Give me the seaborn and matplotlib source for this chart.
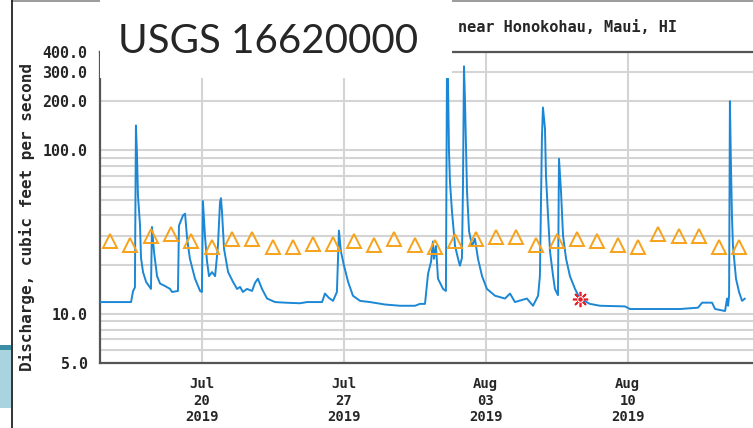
import numpy as np
import pandas as pd
import matplotlib
matplotlib.use("Agg")
import matplotlib.pyplot as plt
import matplotlib.ticker as mticker
from matplotlib.patches import Rectangle
from matplotlib.lines import Line2D
import seaborn as sns

# Discharge record, days after 2019-07-15 00:00 (HST) and cfs
flow_day = [0.00, 1.53, 1.63, 1.72, 1.77, 1.82, 1.87, 1.97, 2.02, 2.12, 2.27, 2.51,
            2.56, 2.66, 2.81, 2.96, 3.20, 3.45, 3.55, 3.84, 3.89, 4.09, 4.19, 4.29,
            4.43, 4.68, 4.93, 5.02, 5.07, 5.17, 5.27, 5.37, 5.52, 5.67, 5.81, 5.91,
            5.96, 6.01, 6.11, 6.31, 6.55, 6.75, 6.90, 7.04, 7.24, 7.49, 7.64, 7.78,
            7.98, 8.23, 8.62, 9.11, 9.85, 10.20, 10.94, 11.08, 11.28, 11.48, 11.67, 11.77,
            11.87, 12.02, 12.22, 12.46, 12.81, 13.30, 14.04, 14.78, 15.52, 15.76, 16.01, 16.16,
            16.31, 16.40, 16.45, 16.55, 16.65, 16.90, 17.04, 17.09, 17.14, 17.19, 17.24, 17.34,
            17.49, 17.64, 17.73, 17.83, 17.88, 17.93, 17.98, 18.03, 18.08, 18.18, 18.33, 18.47,
            18.62, 18.82, 19.06, 19.46, 19.95, 20.20, 20.44, 21.03, 21.33, 21.58, 21.67, 21.77,
            21.82, 21.92, 21.97, 22.07, 22.17, 22.32, 22.41, 22.56, 22.61, 22.71, 22.81, 22.96,
            23.15, 23.40, 23.65, 24.14, 24.63, 25.86, 26.11, 27.09, 28.57, 29.46, 29.66, 30.15,
            30.30, 30.79, 30.89, 30.94, 30.99, 31.03, 31.08, 31.13, 31.18, 31.33, 31.48, 31.63,
            31.77]
flow_cfs = [11.8, 11.8, 13.8, 14.5, 142, 96, 53, 35, 22, 18, 15.7, 14.2,
            34, 24, 17, 15.3, 14.8, 14.2, 13.6, 13.8, 34.6, 40, 41, 29,
            21.7, 16.4, 13.8, 13.6, 49, 30, 21, 17, 18, 17, 26, 48,
            51, 42, 25, 18, 15.7, 14.2, 14.6, 13.6, 14.2, 13.8, 15.5, 16.4,
            14.2, 12.4, 11.8, 11.7, 11.6, 11.8, 11.8, 13.3, 12.5, 12.0, 13.6, 32.3,
            24, 19.7, 15.7, 12.9, 12.0, 11.8, 11.4, 11.2, 11.2, 11.5, 11.5, 17.6,
            20.9, 27.7, 21.7, 26, 16.4, 14.2, 13.8, 284, 284, 100, 64, 42,
            26, 21.7, 19.7, 22, 60, 327, 200, 107, 56, 32, 26, 28.8,
            21.7, 17, 14.2, 12.9, 12.4, 13.3, 11.8, 12.4, 11.2, 12.9, 17, 120,
            183, 136, 70, 40, 24, 17, 14.2, 13, 89, 56, 30, 21.7,
            17, 14.2, 12.3, 11.5, 11.2, 11.1, 10.7, 10.7, 10.7, 10.9, 11.7, 11.7,
            10.7, 10.4, 12.4, 11.2, 13, 200, 83, 40, 26, 16.4, 13.6, 12.0,
            12.4]

# Median of daily statistics (one per day, Jul 15 .. Aug 15)
median_cfs = [27.7, 26.5, 30.1, 31.0, 28.0, 25.8, 28.8, 28.8, 25.8, 25.8, 26.9, 26.9,
              28.0, 26.5, 28.8, 26.5, 25.8, 27.7, 28.8, 29.7, 29.7, 26.5, 27.7, 28.8,
              27.7, 26.5, 25.8, 31.0, 30.1, 30.1, 25.8, 25.8]

# Measured discharge point
meas_day = [23.65]
meas_cfs = [12.3]

tick_dates = ["2019-07-20", "2019-07-27", "2019-08-03", "2019-08-10"]
tick_labels = ["Jul\n20\n2019", "Jul\n27\n2019", "Aug\n03\n2019", "Aug\n10\n2019"]
y_ticks = [5, 10, 100, 200, 300, 400]

start = pd.Timestamp("2019-07-15")
flow = pd.DataFrame({"time": start + pd.to_timedelta(flow_day, unit="D"), "cfs": flow_cfs})
med = pd.DataFrame({"time": start + pd.to_timedelta(np.arange(len(median_cfs)) + 0.5, unit="D"),
                    "cfs": median_cfs})
meas = pd.DataFrame({"time": start + pd.to_timedelta(meas_day, unit="D"), "cfs": meas_cfs})

sns.set_style("white")
mono = {"family": "DejaVu Sans Mono", "weight": "bold"}

W, H = 753, 428
fig = plt.figure(figsize=(W / 100, H / 100), dpi=100)
ax = fig.add_axes([100 / W, 1 - 363 / H, 653 / W, 311 / H])

sns.lineplot(data=flow, x="time", y="cfs", ax=ax, color="#1c87d4", lw=1.4,
             estimator=None, zorder=3)
sns.lineplot(data=med, x="time", y="cfs", ax=ax, linestyle="", marker="^",
             markersize=9.5, markerfacecolor="none", markeredgecolor="#f7a21b",
             markeredgewidth=1.4, estimator=None, zorder=4)
sns.lineplot(data=meas, x="time", y="cfs", ax=ax, linestyle="", marker=(8, 2, 0),
             markersize=11, markeredgecolor="#e8202a", markeredgewidth=1.2,
             estimator=None, zorder=5)
sns.lineplot(data=meas, x="time", y="cfs", ax=ax, linestyle="", marker="o",
             markersize=4, color="#e8202a", estimator=None, zorder=5)

ax.set_yscale("log")
ax.set_ylim(5, 400)
ax.set_xlim(start, start + pd.Timedelta(days=653 / 20.3))

ax.yaxis.set_major_locator(mticker.FixedLocator(y_ticks))
ax.yaxis.set_major_formatter(mticker.FixedFormatter([f"{v:.1f}" for v in y_ticks]))
ax.yaxis.set_minor_locator(mticker.LogLocator(base=10, subs=np.arange(1, 10)))
ax.yaxis.set_minor_formatter(mticker.NullFormatter())
ax.set_xticks(pd.to_datetime(tick_dates))
ax.set_xticklabels(tick_labels, linespacing=1.25)
ax.xaxis.set_minor_locator(mticker.NullLocator())

ax.grid(True, which="both", axis="y", color="#d4d4d4", lw=1.5)
ax.grid(True, which="major", axis="x", color="#d4d4d4", lw=1.5)
ax.set_axisbelow(True)
ax.tick_params(which="both", length=0)
ax.tick_params(axis="y", pad=9)
ax.tick_params(axis="x", pad=10)
for lab in ax.get_xticklabels():
    lab.set_fontproperties(dict(mono, size=10))
for lab in ax.get_yticklabels():
    lab.set_fontproperties(dict(mono, size=10.8))

for side in ["top", "left", "bottom"]:
    ax.spines[side].set_color("#555555")
    ax.spines[side].set_linewidth(1.6)
ax.spines["right"].set_visible(False)

ax.set_xlabel("")
ax.set_ylabel("Discharge, cubic feet per second", fontdict=dict(mono, size=11.5))
ax.yaxis.set_label_coords((35 - 100) / 653, 0.469)

# header text of the USGS graph
fig.text(458 / W, 1 - 27 / H, "near Honokohau, Maui, HI", ha="left", va="center",
         size=11, **mono)

# slide frame bits
fig.add_artist(Line2D([12 / W, 1], [1 - 0.7 / H, 1 - 0.7 / H], color="#8a8a8a", lw=1.2))
fig.add_artist(Line2D([12 / W, 12 / W], [0, 1], color="#222222", lw=1.3))
fig.add_artist(Rectangle((0, 1 - 408 / H), 11 / W, 63 / H, transform=fig.transFigure,
                         facecolor="#a8d3df", edgecolor="none"))
fig.add_artist(Rectangle((0, 1 - 350 / H), 11 / W, 5 / H, transform=fig.transFigure,
                         facecolor="#3a8fa5", edgecolor="none"))

# overlay box with the station title
fig.add_artist(Rectangle((100 / W, 1 - 78 / H), 352 / W, 78 / H, transform=fig.transFigure,
                         facecolor="white", edgecolor="none", zorder=10))
fig.text(118 / W, 1 - 53 / H, "USGS 16620000", family="Lato", fontsize=29,
         ha="left", va="baseline", zorder=11)

fig.savefig("out.png", dpi=100)
plt.close(fig)
